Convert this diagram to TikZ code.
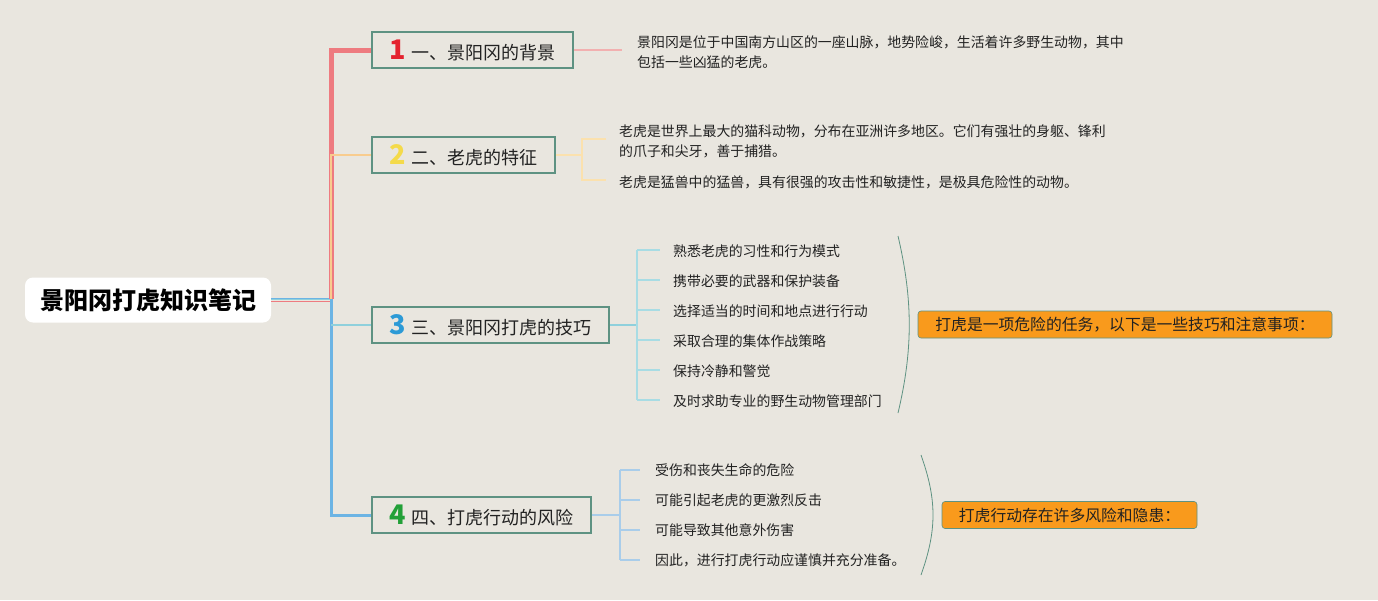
\documentclass[tikz,border=0pt]{standalone}
\usepackage{fontspec}
\setmainfont{Noto Sans CJK SC}
\definecolor{bg}{HTML}{E9E6DF}
\definecolor{teal}{HTML}{5E9282}
\definecolor{rl}{HTML}{EE7B80}
\definecolor{ol}{HTML}{F8CC8E}
\definecolor{bl}{HTML}{6CB4E4}
\definecolor{cl}{HTML}{8FD0DC}
\definecolor{pl}{HTML}{F2B0B0}
\definecolor{obr}{HTML}{FBE1AE}
\definecolor{cbr}{HTML}{A8DCE4}
\definecolor{bbr}{HTML}{A9CDEA}
\definecolor{nred}{HTML}{E4222E}
\definecolor{nyel}{HTML}{F4DA4A}
\definecolor{nblu}{HTML}{2C9AD6}
\definecolor{ngrn}{HTML}{22A038}
\definecolor{obox}{HTML}{F99A1C}
\definecolor{txt}{HTML}{222222}
\newcommand{\tnum}[2]{\textcolor{#1}{\fontsize{27}{27}\selectfont\bfseries #2}\hspace{5pt}}
\begin{document}
\begin{tikzpicture}[x=1pt,y=-1pt,
  rootbox/.style={fill=white,rounded corners=8pt,minimum width=246pt,minimum height=45pt,inner sep=0pt,font=\fontsize{24}{28}\selectfont\bfseries,text=black},
  topic/.style={draw=teal,line width=1.8pt,fill=bg,anchor=west,minimum height=36pt,inner sep=0pt,font=\fontsize{18}{22}\selectfont,text=txt},
  desc/.style={anchor=west,align=left,inner sep=0pt,font=\fontsize{13.9}{20.5}\selectfont,text=txt},
  item/.style={anchor=west,inner sep=0pt,font=\fontsize{13.9}{20}\selectfont,text=txt},
  note/.style={fill=obox,draw=teal,line width=0.6pt,rounded corners=3pt,inner sep=0pt,minimum height=27pt,font=\fontsize{15.8}{20}\selectfont,text=txt},
  brace/.style={draw=teal,line width=0.8pt}
]
\fill[bg] (0,0) rectangle (1378,600);
\useasboundingbox (0,0) rectangle (1378,600);

% root
\node[rootbox] (root) at (148,300) {景阳冈打虎知识笔记};

% topics
\node[topic,minimum width=201pt] (t1) at (371,50) {\tnum{nred}{1}一、景阳冈的背景};
\node[topic,minimum width=183pt] (t2) at (371,155) {\tnum{nyel}{2}二、老虎的特征};
\node[topic,minimum width=237pt] (t3) at (371,325) {\tnum{nblu}{3}三、景阳冈打虎的技巧};
\node[topic,minimum width=219pt] (t4) at (371,515) {\tnum{ngrn}{4}四、打虎行动的风险};

% junction
\coordinate (j) at (331,299);
\draw[rl,line width=0.9pt] (root.east) ++(0,1) -- ++(60,0);
\draw[bl,line width=0.9pt] (root.east) ++(0,-2) -- ++(60,0);
\draw[cl,line width=0.9pt] (root.east) ++(0,-0.5) -- ++(60,0);
\draw[rl,line width=5pt] (j) |- (t1.west);
\draw[ol,line width=2.6pt] (j) |- (t2.west);
\draw[bl,line width=3pt] (j) |- (t4.west);
\coordinate (j3) at (331,325);
\draw[cl,line width=2pt] (j3) -- (t3.west);

% branch 1
\coordinate (e1) at (622,50);
\draw[pl,line width=1.2pt] (t1.east) -- (e1);
\node[desc] (d1) at (637,52) {景阳冈是位于中国南方山区的一座山脉，地势险峻，生活着许多野生动物，其中\\包括一些凶猛的老虎。};

% branch 2
\coordinate (b2) at (582,155);
\draw[obr,line width=1.5pt] (t2.east) -- (b2);
\node[desc] (d2a) at (619,141.5) {老虎是世界上最大的猫科动物，分布在亚洲许多地区。它们有强壮的身躯、锋利\\的爪子和尖牙，善于捕猎。};
\node[desc] (d2b) at (619,182) {老虎是猛兽中的猛兽，具有很强的攻击性和敏捷性，是极具危险性的动物。};
\draw[obr,line width=1.3pt] (606,139) -- (582,139) -- (582,180) -- (606,180);

% branch 3
\coordinate (b3) at (637,325);
\draw[cl,line width=1.5pt] (t3.east) -- (b3);
\draw[cbr,line width=1.3pt] (637,250) -- (637,400);
\foreach \y/\t [count=\i] in {251/熟悉老虎的习性和行为模式,281/携带必要的武器和保护装备,311/选择适当的时间和地点进行行动,341/采取合理的集体作战策略,371/保持冷静和警觉,401/及时求助专业的野生动物管理部门}{
  \node[item] (i3\i) at (673,\y) {\t};
  \draw[cbr,line width=1.3pt] (637,\y-1) -- (660,\y-1);
}
\draw[brace] (898,236) .. controls (913,300) and (913,350) .. (898,413);
\node[note,minimum width=414pt] (n3) at (1125,324.5) {打虎是一项危险的任务，以下是一些技巧和注意事项：};

% branch 4
\coordinate (b4) at (620,515);
\draw[bbr,line width=1.5pt] (t4.east) -- (b4);
\draw[bbr,line width=1.3pt] (620,470) -- (620,560);
\foreach \y/\t [count=\i] in {470/受伤和丧失生命的危险,500/可能引起老虎的更激烈反击,530/可能导致其他意外伤害,560/因此，进行打虎行动应谨慎并充分准备。}{
  \node[item] (i4\i) at (655,\y) {\t};
  \draw[bbr,line width=1.3pt] (620,\y) -- (640,\y);
}
\draw[brace] (921,455) .. controls (937,500) and (937,530) .. (921,575);
\node[note,minimum width=255pt] (n4) at (1069.5,515) {打虎行动存在许多风险和隐患：};
\end{tikzpicture}
\end{document}
